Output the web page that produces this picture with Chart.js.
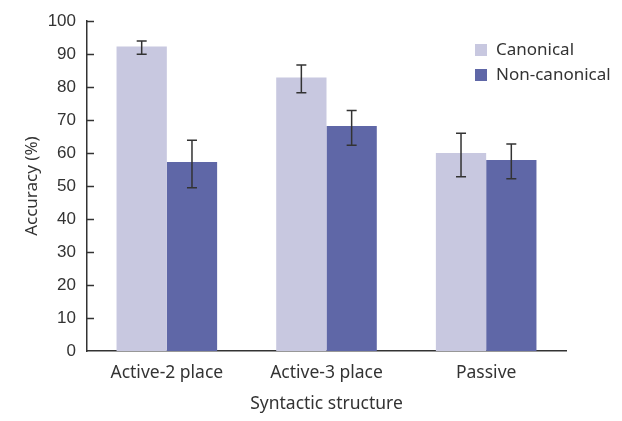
<!DOCTYPE html>
<html>
<head>
<meta charset="utf-8">
<script src="https://cdn.jsdelivr.net/npm/chart.js@4.4.1/dist/chart.umd.min.js"></script>
<style>
	body { margin: 0; background: #fff; }
	canvas { display: block; }
</style>
</head>
<body>
<canvas id="accChart" width="622" height="421"></canvas>
<script>
//data

const categories = ['Active-2 place', 'Active-3 place', 'Passive'];
const seriesNames = ['Canonical', 'Non-canonical'];
const canonical = [92.3, 82.9, 60.0];
const nonCanonical = [57.3, 68.2, 57.9];
//error bar ends (low / high)
const canonicalLow = [90.0, 78.3, 52.8];
const canonicalHigh = [94.0, 86.7, 66.0];
const nonCanonicalLow = [49.5, 62.4, 52.2];
const nonCanonicalHigh = [63.9, 72.9, 62.8];
const yTicks = [0, 10, 20, 30, 40, 50, 60, 70, 80, 90, 100];

const colors = ['#c8c8e0', '#5f67a7'];
const inkColor = '#333333';
const labelFont = '"Noto Sans", "DejaVu Sans", sans-serif';

//error bars drawn at each bar's x using the y scale

const errorBars = {
	id: 'errorBars',
	afterDatasetsDraw(chart) {
		const ctx = chart.ctx;
		const y = chart.scales.y;
		const ranges = [[canonicalLow, canonicalHigh], [nonCanonicalLow, nonCanonicalHigh]];
		ctx.save();
		ctx.strokeStyle = inkColor;
		ctx.lineWidth = 1.5;
		ranges.forEach((r, di) => {
			chart.getDatasetMeta(di).data.forEach((bar, i) => {
				const top = y.getPixelForValue(r[1][i]);
				const bottom = y.getPixelForValue(r[0][i]);
				ctx.beginPath();
				ctx.moveTo(bar.x, top);
				ctx.lineTo(bar.x, bottom);
				ctx.moveTo(bar.x - 5, top);
				ctx.lineTo(bar.x + 5, top);
				ctx.moveTo(bar.x - 5, bottom);
				ctx.lineTo(bar.x + 5, bottom);
				ctx.stroke();
			});
		});
		ctx.restore();
	}
};

//tick marks on the inside of the y axis

const innerTicks = {
	id: 'innerTicks',
	afterDraw(chart) {
		const ctx = chart.ctx;
		const y = chart.scales.y;
		const left = chart.chartArea.left;
		ctx.save();
		ctx.strokeStyle = inkColor;
		ctx.lineWidth = 1.5;
		yTicks.forEach(v => {
			if (v === 0) return;
			const py = Math.round(y.getPixelForValue(v)) + 0.5;
			ctx.beginPath();
			ctx.moveTo(left, py);
			ctx.lineTo(left + 7, py);
			ctx.stroke();
		});
		ctx.restore();
	}
};

//legend in the top right corner

const cornerLegend = {
	id: 'cornerLegend',
	afterDraw(chart) {
		const ctx = chart.ctx;
		const x0 = chart.chartArea.right - 91;
		const y0 = 44;
		ctx.save();
		ctx.font = '17px ' + labelFont;
		ctx.textBaseline = 'middle';
		chart.data.datasets.forEach((ds, i) => {
			const yy = y0 + i * 25;
			ctx.fillStyle = ds.backgroundColor;
			ctx.fillRect(x0, yy, 12, 12);
			ctx.fillStyle = inkColor;
			ctx.fillText(ds.label, x0 + 21, yy + 6);
		});
		ctx.restore();
	}
};

const chartData = {
	labels: categories,
	datasets: [{
		label: seriesNames[0],
		data: canonical,
		backgroundColor: colors[0]
	}, {
		label: seriesNames[1],
		data: nonCanonical,
		backgroundColor: colors[1]
	}]
};

const config = {
	type: 'bar',
	data: chartData,
	options: {
		responsive: false,
		animation: false,
		layout: {
			padding: { top: 19, right: 56, bottom: 0, left: 0 }
		},
		datasets: {
			bar: {
				categoryPercentage: 0.63,
				barPercentage: 1
			}
		},
		plugins: {
			legend: { display: false },
			tooltip: { enabled: false }
		},
		scales: {
			x: {
				grid: { display: false, drawTicks: false },
				border: { display: true, color: inkColor, width: 1.5 },
				ticks: {
					color: inkColor,
					padding: 12,
					font: { family: labelFont, size: 17.5 }
				},
				title: {
					display: true,
					text: 'Syntactic structure',
					color: inkColor,
					padding: { top: 6, bottom: 6 },
					font: { family: labelFont, size: 17.5 }
				},
				afterFit(scale) {
					scale.height = 70;
				}
			},
			y: {
				min: 0,
				max: 100,
				grid: { display: false, drawTicks: false },
				border: { display: true, color: inkColor, width: 1.5 },
				ticks: {
					stepSize: 10,
					color: inkColor,
					padding: 11,
					font: { family: '"Liberation Sans", Arial, sans-serif', size: 17 }
				},
				title: {
					display: true,
					text: 'Accuracy (%)',
					color: inkColor,
					padding: { top: 22, bottom: 0 },
					font: { family: labelFont, size: 17 }
				},
				afterFit(scale) {
					scale.width = 87;
				}
			}
		}
	},
	plugins: [errorBars, innerTicks, cornerLegend]
};

const ctx = document.getElementById('accChart').getContext('2d');
const chart = new Chart(ctx, config);
</script>
</body>
</html>
